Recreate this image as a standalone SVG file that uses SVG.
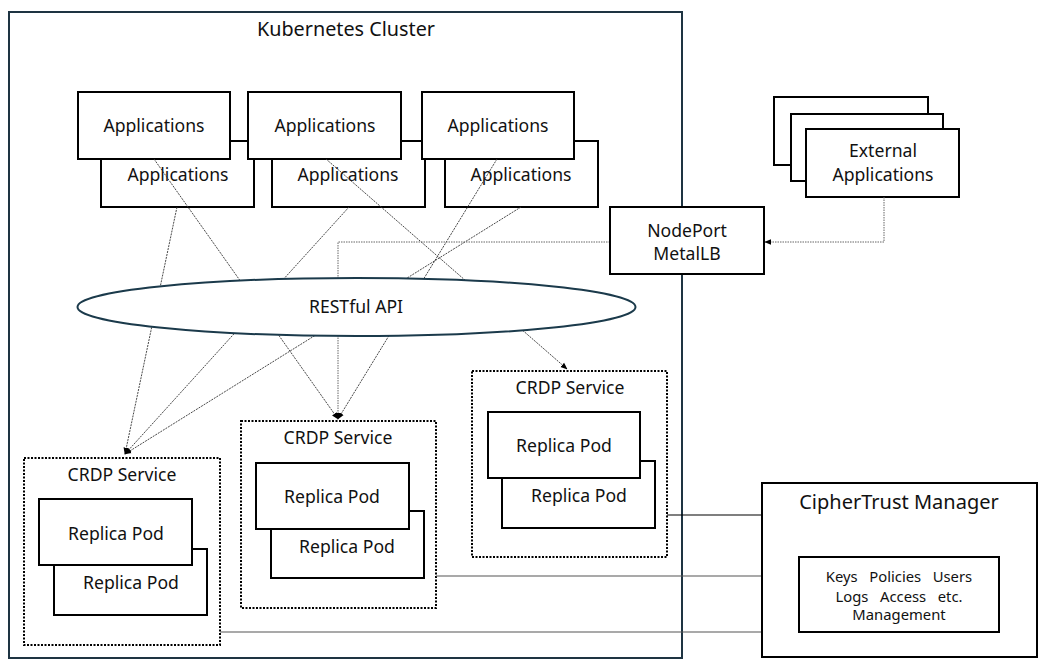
<svg xmlns="http://www.w3.org/2000/svg" width="1051" height="672" viewBox="0 0 1051 672">
<style>
text{font-family:"Noto Sans","Open Sans","Liberation Sans",sans-serif;fill:#111;text-anchor:middle}
.t{font-size:17.6px}
.big{font-size:19.8px}
.sm{font-size:14.8px}
.box{fill:#fff;stroke:#000;stroke-width:2}
.svc{fill:#fff;stroke:#000;stroke-width:2;stroke-dasharray:2 1.5}
.cl{fill:none;stroke:#1e3442;stroke-width:2}
.c{fill:none;stroke:#333;stroke-width:0.9;stroke-dasharray:2 1}
.g{fill:none;stroke:#666;stroke-width:1;stroke-dasharray:1.5 1}
.s{fill:none;stroke:#000;stroke-width:1.2}
.s2{fill:none;stroke:#555;stroke-width:1.2}
</style>
<defs>
<marker id="ah" viewBox="0 0 10 10" refX="9" refY="5" markerWidth="7" markerHeight="7" orient="auto" markerUnits="userSpaceOnUse">
<path d="M0,1 L10,5 L0,9 z" fill="#000"/>
</marker>
</defs>
<rect width="1051" height="672" fill="#fff"/>
<g id="cluster">
<rect class="cl" x="9" y="12" width="673" height="646"/>
<text class="big" x="346" y="36">Kubernetes Cluster</text>
</g>
<g id="apps">
<rect class="box" x="101" y="141" width="153" height="66"/>
<text class="t" x="178" y="181">Applications</text>
<rect class="box" x="78" y="92" width="152" height="67"/>
<text class="t" x="154" y="132">Applications</text>
<rect class="box" x="272" y="141" width="153" height="66"/>
<text class="t" x="348" y="181">Applications</text>
<rect class="box" x="248" y="92" width="153" height="67"/>
<text class="t" x="325" y="132">Applications</text>
<rect class="box" x="445" y="141" width="153" height="66"/>
<text class="t" x="521" y="181">Applications</text>
<rect class="box" x="422" y="92" width="152" height="67"/>
<text class="t" x="498" y="132">Applications</text>
</g>
<g id="external">
<rect class="box" x="774" y="97" width="154" height="68"/>
<rect class="box" x="791" y="114" width="152" height="67"/>
<rect class="box" x="806" y="129" width="153" height="68"/>
<text class="t" x="883" y="157">External</text>
<text class="t" x="883" y="181">Applications</text>
</g>
<g id="crdp1">
<rect class="svc" x="24" y="458" width="196" height="187"/>
<text class="t" x="122" y="481">CRDP Service</text>
<rect class="box" x="54" y="549" width="153" height="66"/>
<text class="t" x="131" y="589">Replica Pod</text>
<rect class="box" x="39" y="499" width="153" height="66"/>
<text class="t" x="116" y="540">Replica Pod</text>
</g>
<g id="crdp2">
<rect class="svc" x="241" y="421" width="195" height="187"/>
<text class="t" x="338" y="444">CRDP Service</text>
<rect class="box" x="271" y="511" width="153" height="67"/>
<text class="t" x="347" y="553">Replica Pod</text>
<rect class="box" x="256" y="463" width="153" height="66"/>
<text class="t" x="332" y="503">Replica Pod</text>
</g>
<g id="crdp3">
<rect class="svc" x="472" y="371" width="195" height="186"/>
<text class="t" x="570" y="394">CRDP Service</text>
<rect class="box" x="502" y="461" width="153" height="67"/>
<text class="t" x="579" y="502">Replica Pod</text>
<rect class="box" x="488" y="412" width="152" height="66"/>
<text class="t" x="564" y="452">Replica Pod</text>
</g>
<g id="connectors">
<path class="c" d="M177,207 L125,454" marker-end="url(#ah)"/>
<path class="c" d="M349,207 L125,454" marker-end="url(#ah)"/>
<path class="c" d="M521,207 L125,454" marker-end="url(#ah)"/>
<path class="c" d="M154,159 L338,419" marker-end="url(#ah)"/>
<path class="c" d="M497,159 L338,419" marker-end="url(#ah)"/>
<path class="c" d="M326,159 L567,369" marker-end="url(#ah)"/>
<path class="g" d="M610,242 L338,242 L338,419" marker-end="url(#ah)"/>
<path class="g" d="M884,197 L884,242 L765,242" marker-end="url(#ah)"/>
<path class="s" d="M667,515 L762,515"/>
<path class="s2" d="M436,576 L762,576"/>
<path class="s2" d="M220,632 L762,632"/>
</g>
<g id="restful">
<ellipse cx="356.5" cy="307" rx="279" ry="29" fill="#fff" stroke="#1b3a4b" stroke-width="2"/>
<text class="t" x="356" y="313">RESTful API</text>
</g>
<g id="nodeport">
<rect class="box" x="610" y="207" width="154" height="67"/>
<text class="t" x="687" y="237">NodePort</text>
<text class="t" x="687" y="260">MetalLB</text>
</g>
<g id="ciphertrust">
<rect class="box" x="762" y="483" width="275" height="174"/>
<text x="899" y="509" style="font-size:20px">CipherTrust Manager</text>
<rect class="box" x="799" y="557" width="200" height="75"/>
<text class="sm" x="899" y="582" xml:space="preserve">Keys   Policies   Users</text>
<text class="sm" x="899" y="602" xml:space="preserve">Logs   Access   etc.</text>
<text class="sm" x="899" y="620">Management</text>
</g>
</svg>
